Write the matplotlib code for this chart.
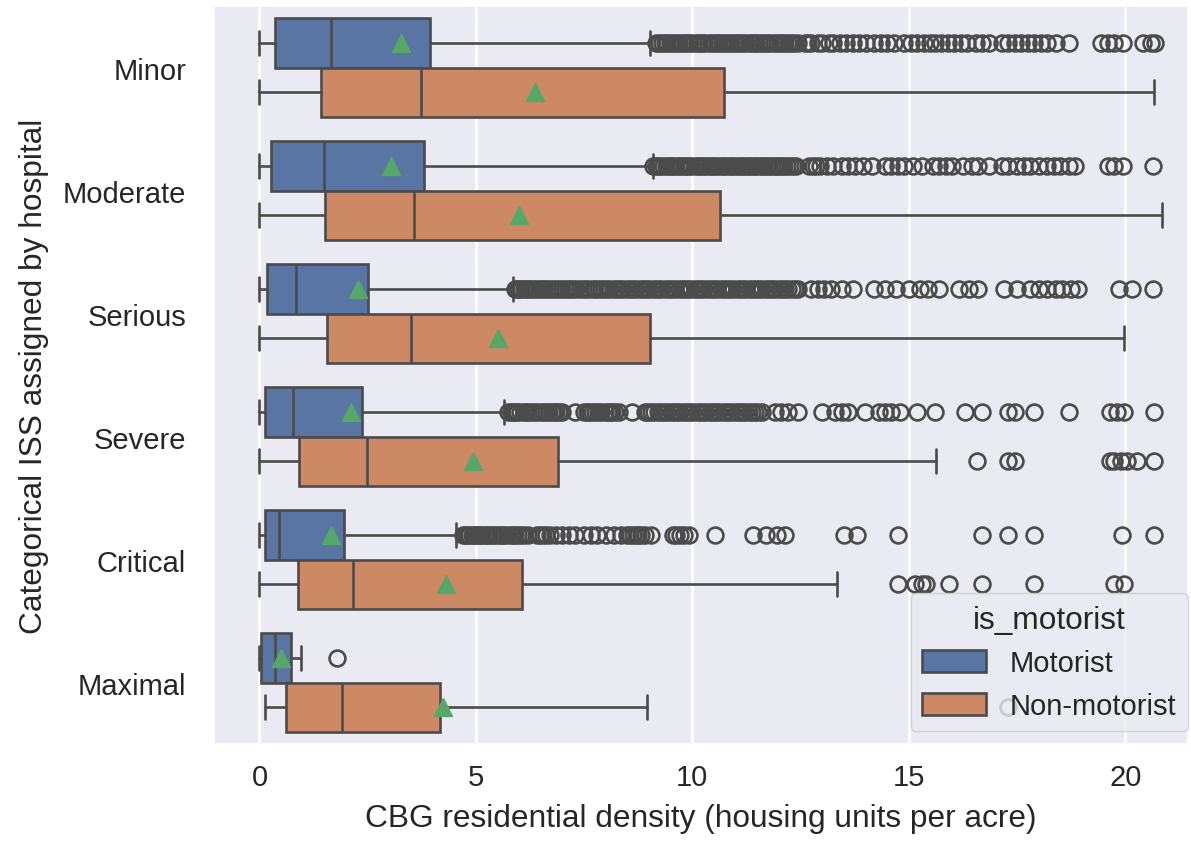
import matplotlib
matplotlib.use("Agg")
import matplotlib.pyplot as plt
from matplotlib.patches import Patch
import seaborn as sns

levels = ["Minor", "Moderate", "Serious", "Severe", "Critical", "Maximal"]
groups = ["Motorist", "Non-motorist"]

# box summaries (one value per ISS level)
mot_lo = [0.0, 0.0, 0.0, 0.0, 0.0, 0.0]
mot_q1 = [0.36, 0.27, 0.18, 0.13, 0.13, 0.03]
mot_med = [1.66, 1.49, 0.85, 0.77, 0.46, 0.35]
mot_q3 = [3.93, 3.79, 2.50, 2.36, 1.96, 0.73]
mot_hi = [9.01, 9.10, 5.85, 5.64, 4.53, 0.96]
mot_mean = [3.27, 3.04, 2.27, 2.12, 1.66, 0.50]

non_lo = [0.0, 0.0, 0.0, 0.0, 0.0, 0.13]
non_q1 = [1.43, 1.52, 1.57, 0.92, 0.88, 0.61]
non_med = [3.74, 3.56, 3.51, 2.49, 2.17, 1.90]
non_q3 = [10.72, 10.64, 9.01, 6.89, 6.06, 4.16]
non_hi = [20.66, 20.85, 19.97, 15.62, 13.35, 8.96]
non_mean = [6.37, 6.00, 5.50, 4.94, 4.30, 4.25]

# outliers (estimated positions)
mot_fliers = [
  [9.15, 9.22, 9.3, 9.36, 9.42, 9.48, 9.55, 9.62, 9.7, 9.76, 9.82, 9.88,
   9.95, 10.02, 10.1, 10.16, 10.22, 10.28, 10.35, 10.42, 10.5, 10.56, 10.62,
   10.68, 10.75, 10.82, 10.9, 10.96, 11.02, 11.08, 11.15, 11.22, 11.3, 11.36,
   11.42, 11.48, 11.55, 11.62, 11.68, 11.74, 11.8, 11.88, 11.95, 12.02,
   12.08, 12.14, 12.2, 12.28, 12.35, 12.45, 12.6, 12.68, 12.75, 12.9, 13.0,
   13.15, 13.25, 13.4, 13.55, 13.7, 13.85, 14.0, 14.2, 14.35, 14.5, 14.65,
   14.9, 15.05, 15.2, 15.35, 15.5, 15.6, 15.75, 15.9, 16.05, 16.2, 16.35,
   16.55, 16.7, 16.85, 17.15, 17.3, 17.45, 17.6, 17.75, 17.9, 18.05, 18.2,
   18.4, 18.7, 19.45, 19.6, 19.75, 19.95, 20.4, 20.6, 20.68],
  [9.1, 9.15, 9.2, 9.26, 9.32, 9.38, 9.45, 9.5, 9.55, 9.62, 9.68, 9.74, 9.8,
   9.86, 9.92, 9.98, 10.05, 10.12, 10.18, 10.24, 10.3, 10.36, 10.42, 10.48,
   10.55, 10.62, 10.68, 10.74, 10.8, 10.86, 10.92, 10.98, 11.05, 11.12,
   11.18, 11.24, 11.3, 11.36, 11.42, 11.48, 11.55, 11.6, 11.65, 11.72,
   11.78, 11.84, 11.9, 11.95, 12.0, 12.06, 12.12, 12.18, 12.25, 12.32, 12.4,
   12.7, 12.78, 12.85, 12.95, 13.1, 13.25, 13.45, 13.6, 13.75, 13.95, 14.15,
   14.45, 14.6, 14.75, 14.9, 15.1, 15.3, 15.55, 15.7, 15.85, 16.0, 16.25,
   16.45, 16.6, 16.85, 17.15, 17.3, 17.5, 17.65, 17.8, 18.0, 18.2, 18.35,
   18.5, 18.7, 18.85, 19.6, 19.75, 19.95, 20.65],
  [5.9, 5.95, 6.0, 6.05, 6.1, 6.15, 6.2, 6.26, 6.32, 6.38, 6.45, 6.52, 6.58,
   6.64, 6.7, 6.78, 6.85, 6.92, 7.0, 7.06, 7.12, 7.18, 7.25, 7.32, 7.4,
   7.48, 7.55, 7.62, 7.7, 7.76, 7.82, 7.88, 7.95, 8.02, 8.1, 8.18, 8.25,
   8.32, 8.4, 8.48, 8.55, 8.62, 8.7, 8.78, 8.85, 8.92, 9.0, 9.08, 9.15,
   9.22, 9.3, 9.38, 9.45, 9.52, 9.6, 9.68, 9.75, 9.82, 9.9, 9.98, 10.05,
   10.12, 10.2, 10.28, 10.35, 10.42, 10.5, 10.58, 10.65, 10.72, 10.8, 10.88,
   10.95, 11.02, 11.1, 11.18, 11.25, 11.32, 11.4, 11.48, 11.55, 11.62, 11.7,
   11.78, 11.85, 11.92, 12.0, 12.08, 12.15, 12.22, 12.3, 12.38, 12.45, 12.75,
   12.9, 13.05, 13.2, 13.45, 13.7, 14.2, 14.45, 14.7, 15.0, 15.25, 15.45,
   15.7, 16.15, 16.4, 16.6, 17.2, 17.5, 17.8, 18.0, 18.2, 18.4, 18.55,
   18.75, 18.9, 19.85, 20.15, 20.65],
  [5.75, 5.8, 5.85, 5.9, 5.95, 6.02, 6.1, 6.15, 6.2, 6.28, 6.35, 6.42, 6.5,
   6.56, 6.62, 6.68, 6.75, 6.8, 6.85, 6.92, 7.0, 7.3, 7.5, 7.56, 7.62, 7.68,
   7.75, 7.82, 7.9, 7.98, 8.05, 8.1, 8.15, 8.22, 8.3, 8.6, 8.9, 8.98, 9.05,
   9.12, 9.2, 9.28, 9.35, 9.42, 9.5, 9.58, 9.65, 9.72, 9.8, 9.88, 9.95,
   10.02, 10.1, 10.18, 10.25, 10.32, 10.4, 10.48, 10.55, 10.62, 10.7, 10.78,
   10.85, 10.92, 11.0, 11.08, 11.15, 11.22, 11.3, 11.38, 11.45, 11.52, 11.6,
   11.9, 12.05, 12.2, 12.45, 13.0, 13.3, 13.45, 13.6, 13.98, 14.3, 14.45,
   14.6, 14.8, 15.2, 15.6, 16.3, 16.7, 17.3, 17.45, 17.9, 18.7, 19.65, 19.8,
   19.97, 20.66],
  [4.7, 4.75, 4.8, 4.85, 4.9, 4.95, 5.0, 5.05, 5.1, 5.15, 5.2, 5.25, 5.3,
   5.36, 5.42, 5.48, 5.55, 5.6, 5.65, 5.72, 5.8, 5.85, 5.9, 5.98, 6.05,
   6.12, 6.2, 6.4, 6.48, 6.55, 6.62, 6.7, 6.85, 7.0, 7.15, 7.3, 7.5, 7.65,
   7.8, 8.0, 8.2, 8.35, 8.5, 8.56, 8.62, 8.7, 8.75, 8.82, 8.9, 9.05, 9.55,
   9.62, 9.72, 9.8, 9.93, 10.52, 11.4, 11.7, 11.95, 12.15, 13.5, 13.8,
   14.75, 16.7, 17.3, 17.9, 19.93, 20.66],
  [1.79],
]
non_fliers = [
  [],
  [],
  [],
  [16.57, 17.3, 17.45, 19.65, 19.75, 19.9, 20.05, 20.26, 20.66],
  [14.75, 15.15, 15.3, 15.4, 15.93, 16.7, 17.9, 19.75, 19.97],
  [17.3],
]

colors = ["#5875a4", "#cc8963"]
line_col = "#4b4b4b"
mean_col = "#55a868"

sns.set_theme(style="darkgrid")
plt.rcParams["font.family"] = ["Liberation Sans", "DejaVu Sans"]

fig = plt.figure(figsize=(11.91, 8.45), dpi=100)
ax = fig.add_axes([0.1797, 0.1183, 0.8178, 0.8734])

def make_stats(lo, q1, med, q3, hi, mean, fl):
  return [dict(whislo=lo[i], q1=q1[i], med=med[i], q3=q3[i], whishi=hi[i],
               mean=mean[i], fliers=fl[i]) for i in range(len(levels))]

series = [
  make_stats(mot_lo, mot_q1, mot_med, mot_q3, mot_hi, mot_mean, mot_fliers),
  make_stats(non_lo, non_q1, non_med, non_q3, non_hi, non_mean, non_fliers),
]

lw = 1.9
for k, stats in enumerate(series):
  pos = [i - 0.2 + 0.4 * k for i in range(len(levels))]
  ax.bxp(stats, positions=pos, widths=0.4, orientation="horizontal",
         patch_artist=True, showmeans=True, manage_ticks=False,
         boxprops=dict(facecolor=colors[k], edgecolor=line_col, linewidth=lw),
         whiskerprops=dict(color=line_col, linewidth=lw),
         capprops=dict(color=line_col, linewidth=lw),
         medianprops=dict(color=line_col, linewidth=lw),
         meanprops=dict(marker="^", markerfacecolor=mean_col,
                        markeredgecolor=mean_col, markersize=12.5),
         flierprops=dict(marker="o", markerfacecolor="none",
                         markeredgecolor=line_col, markersize=11.4,
                         markeredgewidth=lw))

ax.set_xlim(-1.05, 21.45)
ax.set_ylim(5.5, -0.5)
ax.set_yticks(range(len(levels)))
ax.set_yticklabels(levels)
ax.set_xticks([0, 5, 10, 15, 20])
ax.grid(axis="y", visible=False)
ax.grid(axis="x", color="white", linewidth=1.9)
ax.tick_params(axis="both", length=0, labelsize=21, labelcolor="#262626")
ax.tick_params(axis="y", pad=20)
ax.tick_params(axis="x", pad=14)
ax.set_xlabel("CBG residential density (housing units per acre)",
              fontsize=22.8, color="#262626", labelpad=8)
ax.set_ylabel("Categorical ISS assigned by hospital", fontsize=22.8,
              color="#262626", labelpad=10)

handles = [Patch(facecolor=colors[k], edgecolor=line_col, linewidth=lw,
                 label=groups[k]) for k in range(2)]
leg = ax.legend(handles=handles, title="is_motorist", loc="lower right",
                bbox_to_anchor=(1.0, 0.017), borderaxespad=0,
                fontsize=21, title_fontsize=22.8, handlelength=2.2,
                handleheight=0.8)

fig.savefig("out.png", dpi=100)
